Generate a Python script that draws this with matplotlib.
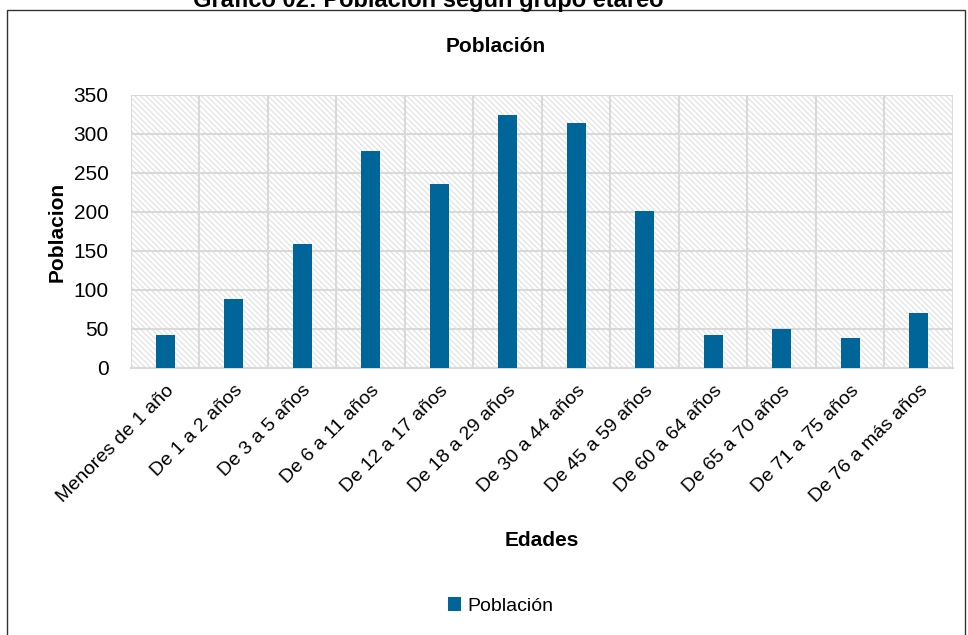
import matplotlib
matplotlib.use('Agg')
import matplotlib.pyplot as plt
from matplotlib.patches import Rectangle
import numpy as np

plt.rcParams['font.family'] = ['Liberation Sans Narrow', 'Liberation Sans', 'DejaVu Sans']
plt.rcParams['hatch.color'] = '#e0e0e0'
plt.rcParams['hatch.linewidth'] = 0.8

categorias = ['Menores de 1 año', 'De 1 a 2 años', 'De 3 a 5 años', 'De 6 a 11 años',
              'De 12 a 17 años', 'De 18 a 29 años', 'De 30 a 44 años', 'De 45 a 59 años',
              'De 60 a 64 años', 'De 65 a 70 años', 'De 71 a 75 años', 'De 76 a más años']
poblacion = [42, 88, 159, 278, 236, 324, 314, 201, 42, 50, 38, 70]
yticks = [0, 50, 100, 150, 200, 250, 300, 350]

azul = '#00669a'
gris = '#d9d9d9'

fig = plt.figure(figsize=(9.68, 6.35), dpi=100)
ax = fig.add_axes([0.1353, 0.4205, 0.8492, 0.4299])

# fondo rayado
ax.add_patch(Rectangle((0, 0), 1, 1, transform=ax.transAxes, facecolor='white',
                       hatch='\\' * 6, edgecolor='#e0e0e0', linewidth=0, zorder=0))

x = np.arange(len(categorias))
ax.bar(x, poblacion, width=0.28, color=azul, zorder=3, label='Población')

ax.set_xlim(-0.5, len(categorias) - 0.5)
ax.set_ylim(0, 350)
ax.set_yticks(yticks)
ax.set_yticklabels([str(v) for v in yticks], fontsize=15)
ax.set_xticks(x)
ax.set_xticklabels(categorias, rotation=45, ha='right', rotation_mode='anchor', fontsize=14)
ax.tick_params(axis='y', length=0, pad=16)
ax.tick_params(axis='x', length=0, pad=10)

# lineas de cuadricula
ax.set_xticks(np.arange(-0.5, len(categorias), 1), minor=True)
ax.tick_params(axis='x', which='minor', length=0)
ax.grid(axis='x', which='minor', color=gris, linewidth=1.5, zorder=1)
ax.grid(axis='y', which='major', color=gris, linewidth=1.5, zorder=1)
ax.set_axisbelow(True)
for s in ax.spines.values():
    s.set_visible(False)
ax.spines['bottom'].set_visible(True)
ax.spines['bottom'].set_color(gris)
ax.spines['bottom'].set_linewidth(1.5)

fig.text(0.512, 0.926, 'Población', fontsize=15, fontweight='bold', ha='center', va='center')
ax.set_ylabel('Poblacion', fontsize=15, fontweight='bold', labelpad=5)
ax.set_xlabel('Edades', fontsize=15, fontweight='bold', labelpad=18)

fig.legend(loc='center', bbox_to_anchor=(0.517, 0.046), frameon=False, fontsize=14,
           handlelength=0.7, handleheight=0.7, handletextpad=0.3)

# marco y titulo cortado
fig.patches.append(Rectangle((7 / 968, -0.01), 958 / 968, 1 - 10 / 635 + 0.01,
                             transform=fig.transFigure, fill=False, edgecolor='#333333',
                             linewidth=1.0))
fig.text(0.442, 1.0, 'Gráfico 02: Población según grupo etáreo', fontsize=17,
         fontweight='bold', ha='center', va='center')

fig.savefig('out.png', dpi=100)
